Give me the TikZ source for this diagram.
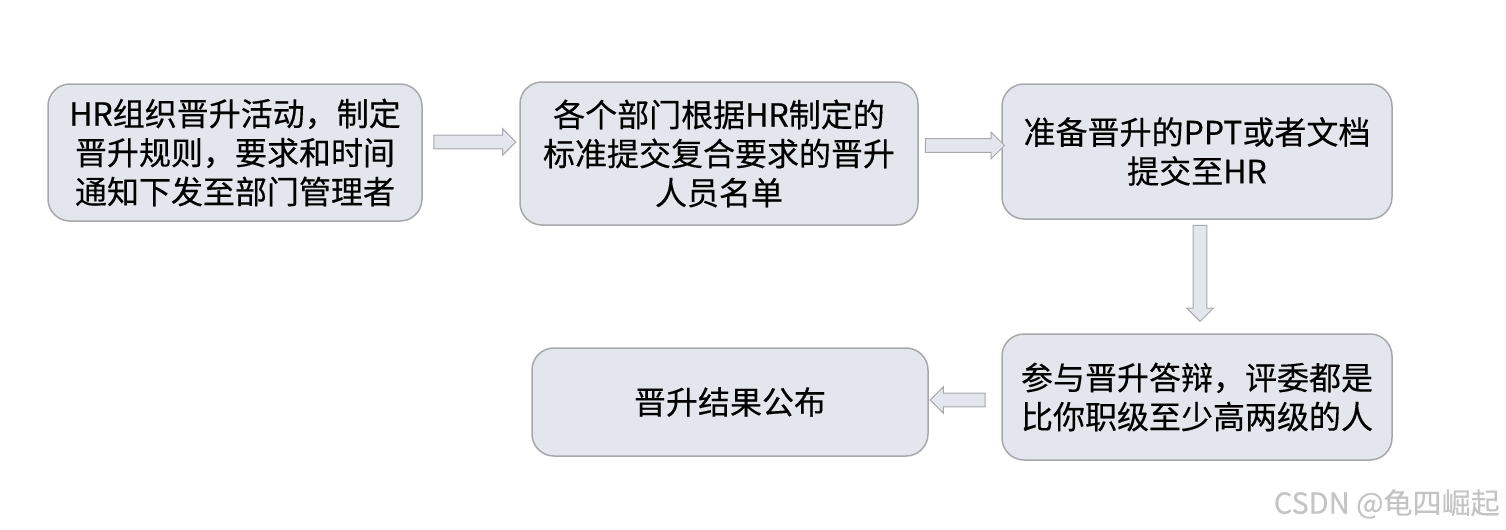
\documentclass[tikz,border=0pt]{standalone}
\usepackage{fontspec}
\setmainfont{Noto Sans CJK SC}[UprightFeatures={FakeBold=0.3}]
\usetikzlibrary{shapes.arrows}

\definecolor{boxfill}{RGB}{228,230,237}
\definecolor{boxline}{RGB}{168,168,172}
\definecolor{markgray}{RGB}{196,196,196}

\tikzset{
  stepbox/.style={draw=boxline, fill=boxfill, line width=0.75pt,
    rounded corners=11pt, align=center, inner sep=0pt,
    font=\fontsize{16}{19.5}\selectfont},
  flowarrow/.style={single arrow, draw=boxline, fill=boxfill,
    line width=0.5pt, inner sep=3.2pt,
    single arrow head extend=3.2pt},
}

\begin{document}
\begin{tikzpicture}[x=0.5pt, y=-0.5pt]

    % Canvas, in pixels of the original picture
    \useasboundingbox (0,0) rectangle (1506,530);

    % The five steps
    \node[stepbox, minimum width=187pt, minimum height=68.5pt] (notice) at (235,152.5)
        {HR组织晋升活动，制定\\晋升规则，要求和时间\\通知下发至部门管理者};
    \node[stepbox, minimum width=199pt, minimum height=71.5pt] (namelist) at (719,153.5)
        {各个部门根据HR制定的\\标准提交复合要求的晋升\\人员名单};
    \node[stepbox, minimum width=195pt, minimum height=67.5pt] (slides) at (1197,151.5)
        {准备晋升的PPT或者文档\\提交至HR};
    \node[stepbox, minimum width=195pt, minimum height=63pt] (defense) at (1197,397)
        {参与晋升答辩，评委都是\\比你职级至少高两级的人};
    \node[stepbox, minimum width=198pt, minimum height=54pt] (result) at (730,402)
        {晋升结果公布};

    % Block arrows between the steps
    \node[flowarrow, minimum height=41pt] (a1) at (471.5,142) {};
    \node[flowarrow, minimum height=39.5pt] (a2) at (961.5,145.5) {};
    \node[flowarrow, minimum height=48pt, shape border rotate=270] (a3) at (1200,270) {};
    \node[flowarrow, minimum height=27.5pt, shape border rotate=180] (a4) at (961,400) {};

    % Watermark
    \node[anchor=east, text=markgray, font=\fontsize{14.5}{16}\selectfont, inner sep=0pt] (mark) at (1500,504)
        {CSDN @龟四崛起};

\end{tikzpicture}
\end{document}
